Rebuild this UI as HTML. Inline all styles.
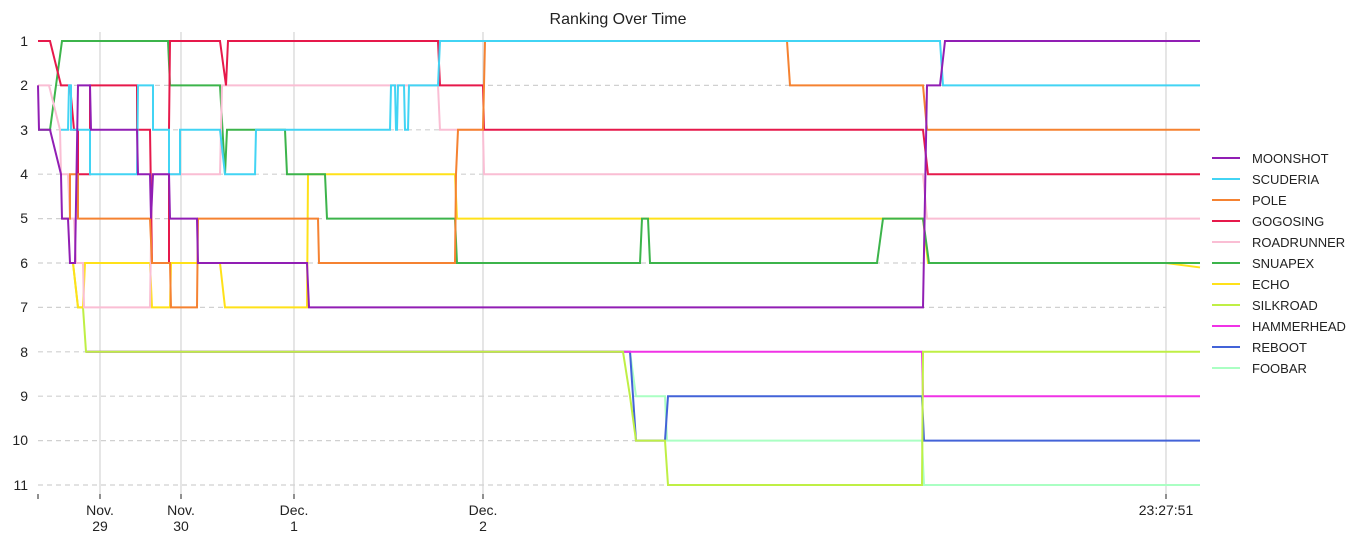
<!DOCTYPE html>
<html><head><meta charset="utf-8"><style>
body{margin:0;background:#fff;}
svg{display:block;font-family:"Liberation Sans","DejaVu Sans",sans-serif;}
</style></head><body>
<svg width="1368" height="544" viewBox="0 0 1368 544" xmlns="http://www.w3.org/2000/svg">
<rect width="1368" height="544" fill="#fff"/>
<text x="618" y="24" font-size="16" text-anchor="middle" fill="#222">Ranking Over Time</text>
<g stroke="#d0d0d0" stroke-width="1.2" stroke-dasharray="5,4">
<line x1="38" x2="1166" y1="85.4" y2="85.4"/><line x1="38" x2="1166" y1="129.8" y2="129.8"/>
<line x1="38" x2="1166" y1="174.2" y2="174.2"/><line x1="38" x2="1166" y1="218.6" y2="218.6"/>
<line x1="38" x2="1166" y1="263" y2="263"/><line x1="38" x2="1166" y1="307.4" y2="307.4"/>
<line x1="38" x2="1166" y1="351.8" y2="351.8"/><line x1="38" x2="1166" y1="396.2" y2="396.2"/>
<line x1="38" x2="1166" y1="440.6" y2="440.6"/><line x1="38" x2="1166" y1="485" y2="485"/>
</g>
<g stroke="#d4d4d4" stroke-width="1.2">
<line x1="100" x2="100" y1="32" y2="494"/><line x1="181" x2="181" y1="32" y2="494"/>
<line x1="294" x2="294" y1="32" y2="494"/><line x1="483" x2="483" y1="32" y2="494"/>
<line x1="1166" x2="1166" y1="32" y2="494"/>
</g>
<g font-size="14" fill="#222" text-anchor="end">
<text x="28" y="46">1</text><text x="28" y="90">2</text><text x="28" y="135">3</text><text x="28" y="179">4</text>
<text x="28" y="223">5</text><text x="28" y="268">6</text><text x="28" y="312">7</text><text x="28" y="357">8</text>
<text x="28" y="401">9</text><text x="28" y="445">10</text><text x="28" y="490">11</text>
</g>
<g stroke="#222" stroke-width="1">
<line x1="38" x2="38" y1="494" y2="499"/><line x1="100" x2="100" y1="494" y2="499"/><line x1="181" x2="181" y1="494" y2="499"/>
<line x1="294" x2="294" y1="494" y2="499"/><line x1="483" x2="483" y1="494" y2="499"/><line x1="1166" x2="1166" y1="494" y2="499"/>
</g>
<g font-size="14" fill="#222" text-anchor="middle">
<text x="100" y="515">Nov.</text><text x="100" y="531">29</text>
<text x="181" y="515">Nov.</text><text x="181" y="531">30</text>
<text x="294" y="515">Dec.</text><text x="294" y="531">1</text>
<text x="483" y="515">Dec.</text><text x="483" y="531">2</text>
<text x="1166" y="515">23:27:51</text>
</g>
<g transform="translate(0,-3.4) scale(1,44.4)" fill="none" stroke-width="2" stroke-linejoin="miter">
<polyline vector-effect="non-scaling-stroke" stroke="#aaffc3" points="86,8 630,8 636,9 665,9 667,10 922,10 924,11 1200,11"/>
<polyline vector-effect="non-scaling-stroke" stroke="#4363d8" points="86,8 630,8 636,10 665,10 668,9 922,9 924,10 1200,10"/>
<polyline vector-effect="non-scaling-stroke" stroke="#f032e6" points="86,8 922,8 923,9 1200,9"/>
<polyline vector-effect="non-scaling-stroke" stroke="#bfef45" points="73,6 78,7 83,7 86,8 623,8 630,9 636,10 665,10 668,11 922,11 923,8 1200,8"/>
<polyline vector-effect="non-scaling-stroke" stroke="#ffe119" points="73,6 78,7 83,7 85,6 150,6 152,7 170,7 171,6 220,6 225,7 307,7 308,4 455,4 457,5 923,5 928,6 1166,6 1200,6.1"/>
<polyline vector-effect="non-scaling-stroke" stroke="#3cb44b" points="38,3 50,3 62,1 168,1 170,2 220,2 225,4 227,3 285,3 287,4 325,4 327,5 455,5 457,6 640,6 642,5 648,5 650,6 877,6 883,5 923,5 929,6 1200,6"/>
<polyline vector-effect="non-scaling-stroke" stroke="#fabed4" points="38,2 49,2 60,3 61,4 68,4 70,5 74,5 76,6 83,6 84,7 150,7 152,4 220,4 222,2 438,2 440,3 483,3 484,4 923,4 927,5 1200,5"/>
<polyline vector-effect="non-scaling-stroke" stroke="#e6194b" points="38,1 50,1 61,2 70,2 74,3 78,3 78,4 90,4 90,2 137,2 137,3 150,3 152,6 169,6 169,3 170,1 220,1 226,2 228,1 438,1 440,2 483,2 484,3 923,3 928,4 1200,4"/>
<polyline vector-effect="non-scaling-stroke" stroke="#f58231" points="62,5 70,5 70,4 78,4 78,5 150,5 152,6 170,6 171,7 197,7 198,5 318,5 319,6 455,6 456,4 458,3 483,3 485,1 787,1 790,2 923,2 927,3 1200,3"/>
<polyline vector-effect="non-scaling-stroke" stroke="#42d4f4" points="61,3 68,3 69,2 71,2 71,3 78,3 90,3 90,4 137,4 138,2 153,2 153,3 169,3 169,4 180,4 180,3 220,3 225,4 255,4 256,3 390,3 391,2 395,2 396,3 397,3 398,2 404,2 405,3 408,3 409,2 438,2 440,1 940,1 943,2 1200,2"/>
<polyline vector-effect="non-scaling-stroke" stroke="#911eb4" points="38,2 39,3 50,3 61,4 62,5 68,5 70,6 75,6 78,2 90,2 91,3 137,3 138,4 150,4 151,5 153,4 169,4 170,5 197,5 198,6 307,6 309,7 923,7 927,2 940,2 945,1 1200,1"/>
</g>
<g font-size="13" fill="#222" stroke-width="2">
<line x1="1212" x2="1240" y1="158" y2="158" stroke="#911eb4"/><text x="1252" y="163">MOONSHOT</text>
<line x1="1212" x2="1240" y1="179" y2="179" stroke="#42d4f4"/><text x="1252" y="184">SCUDERIA</text>
<line x1="1212" x2="1240" y1="200" y2="200" stroke="#f58231"/><text x="1252" y="205">POLE</text>
<line x1="1212" x2="1240" y1="221" y2="221" stroke="#e6194b"/><text x="1252" y="226">GOGOSING</text>
<line x1="1212" x2="1240" y1="242" y2="242" stroke="#fabed4"/><text x="1252" y="247">ROADRUNNER</text>
<line x1="1212" x2="1240" y1="263" y2="263" stroke="#3cb44b"/><text x="1252" y="268">SNUAPEX</text>
<line x1="1212" x2="1240" y1="284" y2="284" stroke="#ffe119"/><text x="1252" y="289">ECHO</text>
<line x1="1212" x2="1240" y1="305" y2="305" stroke="#bfef45"/><text x="1252" y="310">SILKROAD</text>
<line x1="1212" x2="1240" y1="326" y2="326" stroke="#f032e6"/><text x="1252" y="331">HAMMERHEAD</text>
<line x1="1212" x2="1240" y1="347" y2="347" stroke="#4363d8"/><text x="1252" y="352">REBOOT</text>
<line x1="1212" x2="1240" y1="368" y2="368" stroke="#aaffc3"/><text x="1252" y="373">FOOBAR</text>
</g>
</svg>
</body></html>
